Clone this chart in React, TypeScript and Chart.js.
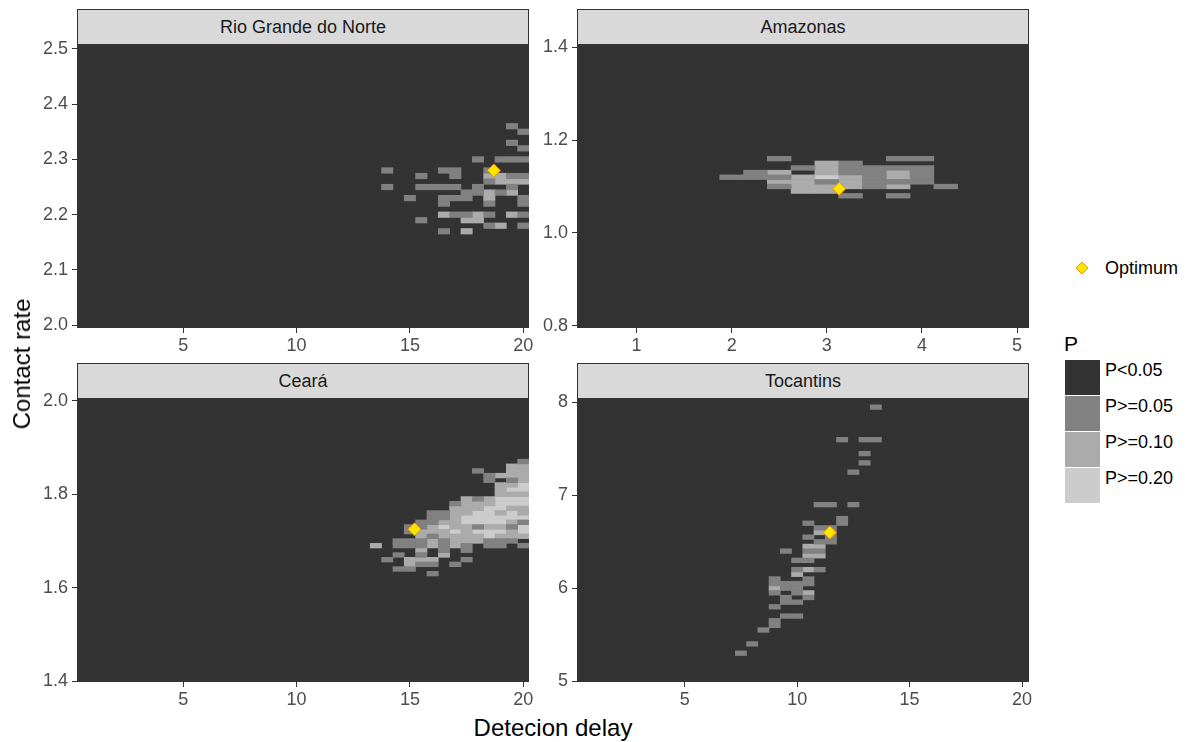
import React, { useEffect, useRef } from 'react';
import { Chart, registerables } from 'chart.js';

Chart.register(...registerables);

const FONT = '"Liberation Sans", Arial, Helvetica, sans-serif';

// ---- legend / text ----
const P_LABELS = ['P<0.05', 'P>=0.05', 'P>=0.10', 'P>=0.20'];
const P_COLORS = ['#333333', '#818181', '#ABABAB', '#CCCCCC'];
const X_TITLE = 'Detecion delay';
const Y_TITLE = 'Contact rate';
const OPTIMUM_LABEL = 'Optimum';
const LEGEND_TITLE = 'P';

// ---- tick labels ----
const DELAY_TICKS = ['5', '10', '15', '20'];
const AMAZONAS_X_TICKS = ['1', '2', '3', '4', '5'];
const RGN_Y_TICKS = ['2.0', '2.1', '2.2', '2.3', '2.4', '2.5'];
const AMAZONAS_Y_TICKS = ['0.8', '1.0', '1.2', '1.4'];
const CEARA_Y_TICKS = ['1.4', '1.6', '1.8', '2.0'];
const TOCANTINS_Y_TICKS = ['5', '6', '7', '8'];

// ---- cells: [detection delay, contact rate, class] ; class 1 = P>=0.05, 2 = P>=0.10, 3 = P>=0.20 ----
const RGN_CELLS: [number, number, number][] = [
  [19.5, 2.36, 1],
  [20, 2.35, 1],
  [19.5, 2.33, 1],
  [20, 2.32, 1],
  [18, 2.3, 1], [19, 2.3, 1], [19.5, 2.3, 1], [20, 2.3, 1],
  [14, 2.28, 1], [16.5, 2.28, 1], [17, 2.28, 1], [18.5, 2.28, 1],
  [15.5, 2.27, 1], [17, 2.27, 1], [18.5, 2.27, 2], [19, 2.27, 2], [19.5, 2.27, 1], [20, 2.27, 1],
  [18.5, 2.26, 1], [19, 2.26, 2], [19.5, 2.26, 2], [20, 2.26, 2],
  [14, 2.25, 1], [15.5, 2.25, 1], [16, 2.25, 1], [16.5, 2.25, 1], [17, 2.25, 1], [18, 2.25, 1], [19.5, 2.25, 1],
  [17.5, 2.24, 1], [18, 2.24, 1], [18.5, 2.24, 2], [19, 2.24, 1], [19.5, 2.24, 2],
  [15, 2.23, 1], [16.5, 2.23, 1], [17, 2.23, 1], [17.5, 2.23, 1], [18.5, 2.23, 2], [20, 2.23, 1],
  [16.5, 2.22, 1], [18.5, 2.22, 1], [20, 2.22, 1],
  [16.5, 2.2, 2], [17, 2.2, 1], [17.5, 2.2, 1], [18, 2.2, 2], [18.5, 2.2, 1], [19.5, 2.2, 2], [20, 2.2, 1],
  [15.5, 2.19, 1], [17.5, 2.19, 2], [18, 2.19, 2],
  [18.5, 2.18, 1], [19, 2.18, 2], [20, 2.18, 1],
  [16.5, 2.17, 1], [17.5, 2.17, 2],
];
const RGN_OPTIMUM: [number, number] = [18.7, 2.28];

const AMAZONAS_CELLS: [number, number, number][] = [
  [2.5, 1.16, 1], [3.75, 1.16, 1], [4, 1.16, 1],
  [3, 1.15, 2], [3.25, 1.15, 1],
  [2.75, 1.14, 1], [3, 1.14, 2], [3.25, 1.14, 1], [3.5, 1.14, 1], [3.75, 1.14, 1], [4, 1.14, 1],
  [2.25, 1.13, 1], [2.5, 1.13, 2], [3, 1.13, 2], [3.25, 1.13, 1], [3.5, 1.13, 1], [3.75, 1.13, 2], [4, 1.13, 1],
  [2, 1.12, 1], [2.25, 1.12, 1], [2.5, 1.12, 1], [2.75, 1.12, 2], [3, 1.12, 3], [3.25, 1.12, 2], [3.5, 1.12, 1], [3.75, 1.12, 2], [4, 1.12, 1],
  [2.5, 1.11, 2], [2.75, 1.11, 2], [3, 1.11, 1], [3.25, 1.11, 2], [3.5, 1.11, 1], [3.75, 1.11, 1], [4, 1.11, 1],
  [2.5, 1.1, 1], [2.75, 1.1, 2], [3, 1.1, 2], [3.25, 1.1, 2], [3.5, 1.1, 1], [3.75, 1.1, 2], [4.25, 1.1, 1],
  [2.75, 1.09, 2], [3, 1.09, 2],
  [3.25, 1.08, 1], [3.75, 1.08, 1],
];
const AMAZONAS_OPTIMUM: [number, number] = [3.13, 1.095];

const CEARA_CELLS: [number, number, number][] = [
  [20, 1.87, 1],
  [19.5, 1.86, 2], [20, 1.86, 2],
  [18, 1.85, 1], [19.5, 1.85, 2], [20, 1.85, 2],
  [18.5, 1.84, 1], [19, 1.84, 2], [19.5, 1.84, 2], [20, 1.84, 2],
  [18.5, 1.83, 1], [19.5, 1.83, 1], [20, 1.83, 2],
  [19, 1.82, 2], [19.5, 1.82, 2], [20, 1.82, 3],
  [19, 1.81, 2], [19.5, 1.81, 3], [20, 1.81, 3],
  [19, 1.8, 2], [19.5, 1.8, 2], [20, 1.8, 2],
  [17.5, 1.79, 2], [18, 1.79, 1], [18.5, 1.79, 2], [19, 1.79, 3], [19.5, 1.79, 3], [20, 1.79, 3],
  [17, 1.78, 1], [17.5, 1.78, 2], [18, 1.78, 2], [18.5, 1.78, 2], [19, 1.78, 3], [19.5, 1.78, 3], [20, 1.78, 3],
  [17, 1.77, 2], [17.5, 1.77, 2], [18, 1.77, 2], [18.5, 1.77, 3], [19, 1.77, 3], [19.5, 1.77, 2], [20, 1.77, 2],
  [16, 1.76, 1], [16.5, 1.76, 1], [17, 1.76, 2], [17.5, 1.76, 2], [18, 1.76, 3], [18.5, 1.76, 3], [19, 1.76, 2], [19.5, 1.76, 3], [20, 1.76, 2],
  [16, 1.75, 1], [16.5, 1.75, 1], [17, 1.75, 2], [17.5, 1.75, 3], [18, 1.75, 3], [18.5, 1.75, 3], [19, 1.75, 3], [19.5, 1.75, 3], [20, 1.75, 3],
  [15.5, 1.74, 1], [16, 1.74, 1], [16.5, 1.74, 2], [17, 1.74, 2], [17.5, 1.74, 3], [18, 1.74, 3], [18.5, 1.74, 3], [19, 1.74, 3], [19.5, 1.74, 2], [20, 1.74, 1],
  [15, 1.73, 1], [15.5, 1.73, 1], [16, 1.73, 2], [16.5, 1.73, 3], [17, 1.73, 2], [17.5, 1.73, 2], [18, 1.73, 1], [18.5, 1.73, 2], [19, 1.73, 2], [19.5, 1.73, 1], [20, 1.73, 3],
  [15, 1.72, 1], [15.5, 1.72, 2], [16, 1.72, 2], [16.5, 1.72, 2], [17, 1.72, 3], [17.5, 1.72, 2], [18, 1.72, 3], [18.5, 1.72, 3], [19, 1.72, 3], [19.5, 1.72, 2], [20, 1.72, 3],
  [15.5, 1.71, 2], [16, 1.71, 1], [16.5, 1.71, 2], [17, 1.71, 2], [17.5, 1.71, 2], [18, 1.71, 2], [18.5, 1.71, 3], [19, 1.71, 2], [19.5, 1.71, 2], [20, 1.71, 2],
  [14.5, 1.7, 1], [15, 1.7, 1], [15.5, 1.7, 1], [16, 1.7, 2], [16.5, 1.7, 1], [17, 1.7, 2], [17.5, 1.7, 2], [18, 1.7, 2], [18.5, 1.7, 1], [19, 1.7, 1], [19.5, 1.7, 1],
  [13.5, 1.69, 2], [14.5, 1.69, 1], [15, 1.69, 1], [15.5, 1.69, 1], [16, 1.69, 2], [16.5, 1.69, 1], [17, 1.69, 2], [17.5, 1.69, 1], [18.5, 1.69, 1], [19, 1.69, 1], [20, 1.69, 1],
  [15.5, 1.68, 2], [16.5, 1.68, 1], [17.5, 1.68, 1],
  [14.5, 1.67, 1], [15.5, 1.67, 1], [16.5, 1.67, 2],
  [14, 1.66, 1], [15, 1.66, 2], [15.5, 1.66, 2], [16, 1.66, 2], [17.5, 1.66, 1],
  [15, 1.65, 2], [15.5, 1.65, 1], [16, 1.65, 1], [17, 1.65, 1],
  [14.5, 1.64, 1], [15, 1.64, 1],
  [16, 1.63, 1],
];
const CEARA_OPTIMUM: [number, number] = [15.2, 1.725];

const TOCANTINS_CELLS: [number, number, number][] = [
  [13.5, 7.95, 1],
  [12, 7.6, 1], [13, 7.6, 1], [13.5, 7.6, 1],
  [13, 7.45, 1],
  [13, 7.35, 1],
  [12.5, 7.25, 1],
  [11, 6.9, 1], [11.5, 6.9, 1], [12.5, 6.9, 1],
  [12, 6.75, 1],
  [10.5, 6.7, 1], [12, 6.7, 1],
  [11, 6.65, 1], [11.5, 6.65, 1],
  [11, 6.6, 2], [11.5, 6.6, 1],
  [10.5, 6.55, 1], [11.5, 6.55, 1],
  [11, 6.5, 1], [11.5, 6.5, 1],
  [10.5, 6.45, 2], [11, 6.45, 2],
  [9.5, 6.4, 1], [10.5, 6.4, 1], [11, 6.4, 1],
  [10.5, 6.35, 2], [11, 6.35, 2],
  [10, 6.3, 1], [10.5, 6.3, 1],
  [10, 6.2, 1], [10.5, 6.2, 2], [11, 6.2, 1],
  [10, 6.15, 2],
  [9, 6.1, 1], [10.5, 6.1, 1],
  [9, 6.05, 1], [9.5, 6.05, 1], [10, 6.05, 1], [10.5, 6.05, 1],
  [9, 6.0, 2], [9.5, 6.0, 1], [10, 6.0, 1],
  [9, 5.95, 1], [10, 5.95, 1], [10.5, 5.95, 2],
  [9.5, 5.9, 1], [10.5, 5.9, 1],
  [9.5, 5.85, 1], [10, 5.85, 1],
  [9, 5.8, 1],
  [9.5, 5.7, 1], [10, 5.7, 1],
  [9, 5.65, 1],
  [9, 5.6, 1],
  [8.5, 5.55, 1],
  [8, 5.4, 1],
  [7.5, 5.3, 1],
];
const TOCANTINS_OPTIMUM: [number, number] = [11.45, 6.6];

// ---- panel layout (styles / axis ranges) ----
type Box = { left: number; top: number; width: number; height: number };
interface PanelSpec {
  title: string;
  cells: [number, number, number][];
  optimum: [number, number];
  dy: number;
  xRange: [number, number];
  yRange: [number, number];
  xTicks: string[];
  yTicks: string[];
  box: Box;
}

const PANELS: PanelSpec[] = [
  {
    title: 'Rio Grande do Norte', cells: RGN_CELLS, optimum: RGN_OPTIMUM, dy: 0.01,
    xRange: [0.32, 20.25], yRange: [1.995, 2.507], xTicks: DELAY_TICKS, yTicks: RGN_Y_TICKS,
    box: { left: 77, top: 45, width: 452, height: 283 },
  },
  {
    title: 'Amazonas', cells: AMAZONAS_CELLS, optimum: AMAZONAS_OPTIMUM, dy: 0.01,
    xRange: [0.375, 5.125], yRange: [0.795, 1.405], xTicks: AMAZONAS_X_TICKS, yTicks: AMAZONAS_Y_TICKS,
    box: { left: 577, top: 45, width: 452, height: 283 },
  },
  {
    title: 'Ceará', cells: CEARA_CELLS, optimum: CEARA_OPTIMUM, dy: 0.01,
    xRange: [0.32, 20.25], yRange: [1.398, 2.004], xTicks: DELAY_TICKS, yTicks: CEARA_Y_TICKS,
    box: { left: 77, top: 399, width: 452, height: 283 },
  },
  {
    title: 'Tocantins', cells: TOCANTINS_CELLS, optimum: TOCANTINS_OPTIMUM, dy: 0.05,
    xRange: [0.21, 20.31], yRange: [4.99, 8.038], xTicks: DELAY_TICKS, yTicks: TOCANTINS_Y_TICKS,
    box: { left: 577, top: 399, width: 452, height: 283 },
  },
];

const AXW = 60;
const AXH = 32;
const PADT = 12;
const PADR = 16;
const STRIP_H = 36;
const SMALL = 18;
const TITLE = 24;
const TICK_FONT = { family: FONT, size: SMALL };

const panelBg = {
  id: 'panelBg',
  beforeDatasetsDraw(chart: any) {
    const { ctx, chartArea: a } = chart;
    ctx.save();
    ctx.fillStyle = P_COLORS[0];
    ctx.fillRect(a.left, a.top, a.right - a.left, a.bottom - a.top);
    ctx.restore();
  },
};

function Panel({ spec }: { spec: PanelSpec }) {
  const ref = useRef<HTMLCanvasElement | null>(null);
  const { box } = spec;
  const cw = AXW + box.width + PADR;
  const ch = PADT + box.height + AXH;

  useEffect(() => {
    const canvas = ref.current;
    if (!canvas) return;
    const datasets: any[] = [1, 2, 3].map((lvl) => ({
      type: 'bar',
      label: P_LABELS[lvl],
      data: spec.cells
        .filter((c) => c[2] === lvl)
        .map(([x, y]) => ({ x, y: [y - spec.dy / 2, y + spec.dy / 2] })),
      backgroundColor: P_COLORS[lvl],
      borderWidth: 0,
      grouped: false,
      barPercentage: 1,
      categoryPercentage: 1,
      order: 1,
    }));
    datasets.push({
      type: 'scatter',
      label: OPTIMUM_LABEL,
      data: [{ x: spec.optimum[0], y: spec.optimum[1] }],
      pointStyle: 'rectRot',
      pointRadius: 6.5,
      backgroundColor: '#FFE600',
      borderColor: '#F39000',
      borderWidth: 1,
      order: 0,
    });

    const tickGrid = {
      display: true,
      drawOnChartArea: false,
      drawTicks: true,
      tickLength: 5,
      color: '#333333',
      lineWidth: 1,
      offset: false,
    };

    const chart = new Chart(canvas, {
      type: 'bar',
      data: { datasets },
      plugins: [panelBg],
      options: {
        animation: false,
        responsive: false,
        devicePixelRatio: 1,
        events: [],
        layout: { padding: { top: PADT, right: PADR, left: 0, bottom: 0 } },
        plugins: { legend: { display: false }, tooltip: { enabled: false }, title: { display: false } },
        scales: {
          x: {
            type: 'linear',
            min: spec.xRange[0],
            max: spec.xRange[1],
            bounds: 'data',
            offset: false,
            grid: tickGrid,
            border: { display: false },
            afterBuildTicks: (s: any) => {
              s.ticks = spec.xTicks.map((t) => ({ value: Number(t) }));
            },
            afterFit: (s: any) => {
              s.height = AXH;
              s.paddingLeft = 0;
              s.paddingRight = 0;
            },
            ticks: {
              autoSkip: false,
              maxRotation: 0,
              minRotation: 0,
              padding: 2,
              color: '#4D4D4D',
              font: TICK_FONT,
              callback: (_v: any, i: number) => spec.xTicks[i],
            },
          },
          y: {
            type: 'linear',
            min: spec.yRange[0],
            max: spec.yRange[1],
            bounds: 'data',
            beginAtZero: false,
            grid: tickGrid,
            border: { display: false },
            afterBuildTicks: (s: any) => {
              s.ticks = spec.yTicks.map((t) => ({ value: Number(t) }));
            },
            afterFit: (s: any) => {
              s.width = AXW;
              s.paddingTop = 0;
              s.paddingBottom = 0;
            },
            ticks: {
              autoSkip: false,
              padding: 4,
              color: '#4D4D4D',
              font: TICK_FONT,
              callback: (_v: any, i: number) => spec.yTicks[i],
            },
          },
        },
      } as any,
    });
    return () => chart.destroy();
  }, [spec]);

  return (
    <>
      <canvas
        ref={ref}
        width={cw}
        height={ch}
        style={{ position: 'absolute', left: box.left - AXW, top: box.top - PADT, width: cw, height: ch }}
      />
      <div
        style={{
          position: 'absolute',
          left: box.left,
          top: box.top - STRIP_H,
          width: box.width,
          height: STRIP_H,
          boxSizing: 'border-box',
          border: '1px solid #333333',
          background: '#D9D9D9',
          display: 'flex',
          alignItems: 'center',
          justifyContent: 'center',
          font: `${SMALL}px ${FONT}`,
          color: '#1A1A1A',
          whiteSpace: 'nowrap',
        }}
      >
        {spec.title}
      </div>
    </>
  );
}

function Legend() {
  const keyTop = 360;
  const keyH = 36;
  return (
    <>
      <svg style={{ position: 'absolute', left: 1075, top: 261 }} width={14} height={14}>
        <polygon points="7,1 13,7 7,13 1,7" fill="#FFE600" stroke="#F39000" strokeWidth={1} />
      </svg>
      <div
        style={{
          position: 'absolute', left: 1105, top: 258, height: 20, lineHeight: '20px',
          font: `${SMALL}px ${FONT}`, color: '#000', whiteSpace: 'nowrap',
        }}
      >
        {OPTIMUM_LABEL}
      </div>
      <div
        style={{
          position: 'absolute', left: 1064, top: 332, height: 24, lineHeight: '24px',
          font: `21px ${FONT}`, color: '#000',
        }}
      >
        {LEGEND_TITLE}
      </div>
      {P_LABELS.map((lab, i) => (
        <React.Fragment key={lab}>
          <div
            style={{
              position: 'absolute', left: 1065, top: keyTop + i * keyH, width: 35, height: keyH - 1,
              background: P_COLORS[i],
            }}
          />
          <div
            style={{
              position: 'absolute', left: 1105, top: keyTop + i * keyH, height: keyH, lineHeight: `${keyH}px`,
              font: `${SMALL}px ${FONT}`, color: '#000', whiteSpace: 'nowrap',
            }}
          >
            {lab}
          </div>
        </React.Fragment>
      ))}
    </>
  );
}

export default function App() {
  return (
    <div
      style={{
        position: 'absolute', left: 0, top: 0, width: 1190, height: 742,
        background: '#FFFFFF', overflow: 'hidden',
      }}
    >
      {PANELS.map((p) => (
        <Panel key={p.title} spec={p} />
      ))}
      <div
        style={{
          position: 'absolute', left: 22, top: 364, transform: 'translate(-50%, -50%) rotate(-90deg)',
          font: `${TITLE}px ${FONT}`, color: '#000', whiteSpace: 'nowrap',
        }}
      >
        {Y_TITLE}
      </div>
      <div
        style={{
          position: 'absolute', left: 553, top: 728, transform: 'translate(-50%, -50%)',
          font: `${TITLE}px ${FONT}`, color: '#000', whiteSpace: 'nowrap',
        }}
      >
        {X_TITLE}
      </div>
      <Legend />
    </div>
  );
}
